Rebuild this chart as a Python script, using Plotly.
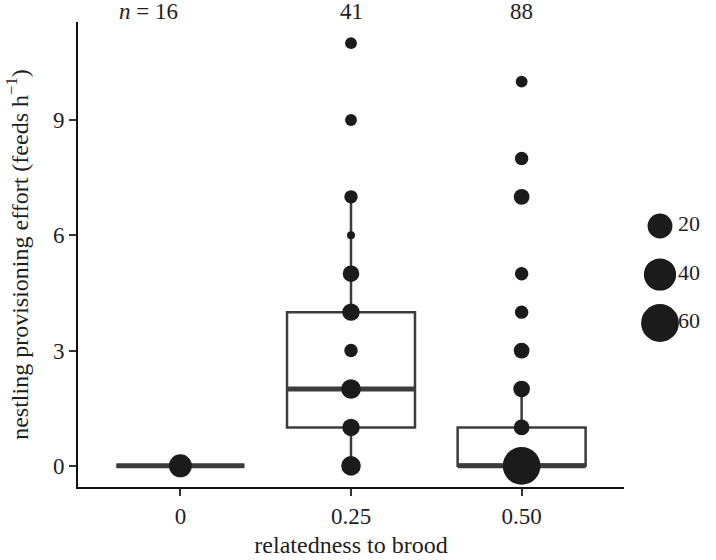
import numpy as np
import plotly.graph_objects as go

# ---------------- data ----------------
groups = ["0", "0.25", "0.50"]
n_labels = ["16", "41", "88"]

# box statistics per group
q1 = [0, 1, 0]
median = [0, 2, 0]
q3 = [0, 4, 1]
lower_whisker = [0, 0, 0]
upper_whisker = [0, 7, 2]

# point values (feeds per hour) and counts per value
vals_0 = [0]
counts_0 = [16]
vals_25 = [0, 1, 2, 3, 4, 5, 6, 7, 9, 11]
counts_25 = [10, 7, 10, 3, 7, 6, 1, 3, 2, 2]
vals_50 = [0, 1, 2, 3, 4, 5, 7, 8, 10]
counts_50 = [60, 5, 6, 5, 3, 3, 5, 3, 2]

legend_sizes = [20, 40, 60]
y_ticks = [0, 3, 6, 9]

# ---------------- styling helpers ----------------
FONT = "Liberation Serif, Times New Roman, Times, serif"
PT_COL = "#1b1b1b"
BOX_COL = "#3c3c3c"
TXT_COL = "#1e1e1e"
all_counts = counts_0 + counts_25 + counts_50
cmin, cmax = min(all_counts), max(all_counts)


def diam(c):
    c = np.asarray(c, dtype=float)
    s = 1 + 5 * np.sqrt((c - cmin) / (cmax - cmin))
    return 5.97 * s + 1.98


BOX_W = 0.75
fig = go.Figure()

# boxes
for i in range(len(groups)):
    fig.add_trace(go.Box(
        x=[i], q1=[q1[i]], median=[median[i]], q3=[q3[i]],
        lowerfence=[lower_whisker[i]], upperfence=[upper_whisker[i]],
        width=BOX_W, whiskerwidth=0, boxpoints=False,
        line=dict(color=BOX_COL, width=2.5), fillcolor="white",
        showlegend=False, hoverinfo="skip",
    ))

# thick median lines
mx, my = [], []
for i in range(len(groups)):
    mx += [i - BOX_W / 2, i + BOX_W / 2, None]
    my += [median[i], median[i], None]
fig.add_trace(go.Scatter(x=mx, y=my, mode="lines",
                         line=dict(color=BOX_COL, width=5),
                         showlegend=False, hoverinfo="skip"))

# points
for i, (v, c) in enumerate([(vals_0, counts_0), (vals_25, counts_25), (vals_50, counts_50)]):
    fig.add_trace(go.Scatter(
        x=[i] * len(v), y=v, mode="markers",
        marker=dict(size=diam(c), color=PT_COL, opacity=1, line=dict(width=0)),
        showlegend=False,
    ))

# size legend (on its own hidden axes)
leg_idx = list(range(len(legend_sizes)))
fig.add_trace(go.Scatter(
    x=[20] * len(legend_sizes), y=leg_idx, mode="markers",
    marker=dict(size=diam(legend_sizes), color=PT_COL, opacity=1, line=dict(width=0)),
    xaxis="x2", yaxis="y2", showlegend=False,
))
fig.add_trace(go.Scatter(
    x=[38] * len(legend_sizes), y=leg_idx, mode="text",
    text=[str(s) for s in legend_sizes], textposition="middle right",
    textfont=dict(family=FONT, size=22, color=TXT_COL),
    xaxis="x2", yaxis="y2", showlegend=False,
))

# n labels above plot
annotations = []
for i, n in enumerate(n_labels):
    txt = ("<i>n</i> = " + n) if i == 0 else n
    annotations.append(dict(
        x=i, y=1, xref="x", yref="paper", text=txt, showarrow=False,
        xanchor="right" if i == 0 else "center", yanchor="middle", yshift=11,
        font=dict(family=FONT, size=23, color=TXT_COL),
    ))

W, H = 716, 560
L, R, T, B = 78, 0, 22, 73
pw, ph = W - L - R, H - T - B
X_END = 624          # right end of main x axis (px)
LEG_X0 = 640         # legend axis left edge
LEG_Y0, LEG_Y1 = 200, 350

fig.update_layout(
    width=W, height=H,
    margin=dict(l=L, r=R, t=T, b=B, autoexpand=False),
    paper_bgcolor="white", plot_bgcolor="white",
    font=dict(family=FONT, size=22, color=TXT_COL),
    showlegend=False,
    annotations=annotations,
    xaxis=dict(
        domain=[0, (X_END - L) / pw], range=[-0.6, 2.6], automargin=False,
        tickvals=list(range(len(groups))), ticktext=groups,
        showgrid=False, zeroline=False, showline=True, linecolor="#111111", linewidth=2,
        ticks="outside", ticklen=7, tickwidth=2, tickcolor="#333333",
        tickfont=dict(family=FONT, size=23, color=TXT_COL),
        title=dict(text="relatedness to brood", font=dict(family=FONT, size=24, color=TXT_COL), standoff=9),
    ),
    yaxis=dict(
        range=[-0.55, 11.55], tickvals=y_ticks, automargin=False,
        showgrid=False, zeroline=False, showline=True, linecolor="#111111", linewidth=2,
        ticks="outside", ticklen=7, tickwidth=2, tickcolor="#333333",
        tickfont=dict(family=FONT, size=23, color=TXT_COL),
        title=dict(text="nestling provisioning effort (feeds h<sup>\u22121</sup>)",
                   font=dict(family=FONT, size=24, color=TXT_COL), standoff=18),
    ),
    xaxis2=dict(domain=[(LEG_X0 - L) / pw, 1.0], range=[0, W - LEG_X0], visible=False,
                anchor="y2", fixedrange=True),
    yaxis2=dict(domain=[(T + ph - LEG_Y1) / ph, (T + ph - LEG_Y0) / ph], range=[2.557, -0.536],
                visible=False, anchor="x2", fixedrange=True),
)

# remove the browser's default 8px page margin so the figure sits at the window origin
fig.write_html("out.html", config={"displayModeBar": False},
               post_script="document.body.style.margin='0';")
